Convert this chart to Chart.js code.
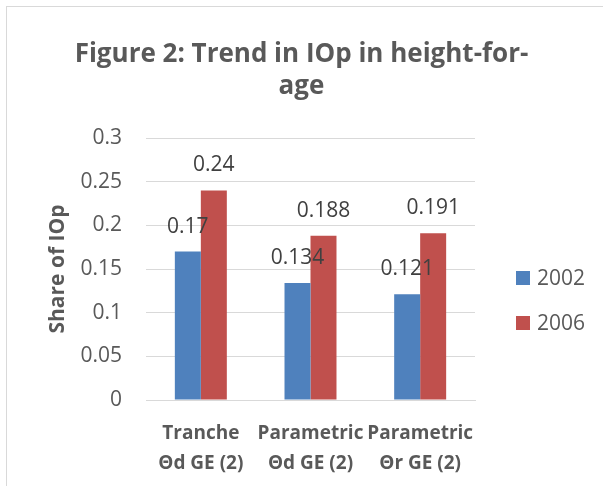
<!DOCTYPE html>
<html>
<head>
<meta charset="utf-8">
<script src="https://cdn.jsdelivr.net/npm/chart.js@4"></script>
<style>
  html, body { margin: 0; padding: 0; background: #fff; overflow: hidden; }
  #wrap { position: relative; width: 603px; height: 486px; }
  #frame { position: absolute; left: 6px; top: 6px; width: 700px; height: 700px;
           border-left: 1px solid #d9d9d9; border-top: 1px solid #d9d9d9; }
  canvas { position: absolute; left: 0; top: 0; }
</style>
</head>
<body>
<div id="wrap">
  <div id="frame"></div>
  <canvas id="chart" width="603" height="486"></canvas>
</div>
<script>
// chart data
const categories = [
  ["Tranche", "\u0398d GE (2)"],
  ["Parametric", "\u0398d GE (2)"],
  ["Parametric", "\u0398r GE (2)"]
];
const years = ["2002", "2006"];
const values2002 = [0.17, 0.134, 0.121];
const values2006 = [0.24, 0.188, 0.191];
const yTicks = [0, 0.05, 0.1, 0.15, 0.2, 0.25, 0.3];

const FONT = "'Open Sans', 'DejaVu Sans', sans-serif";

// value above each bar (no datalabels plugin offline)
const barLabels = {
  id: "barLabels",
  afterDatasetsDraw(chart) {
    const ctx = chart.ctx;
    ctx.save();
    ctx.font = "21px " + FONT;
    ctx.fillStyle = "#404040";
    ctx.textAlign = "center";
    ctx.textBaseline = "middle";
    chart.data.datasets.forEach((ds, i) => {
      chart.getDatasetMeta(i).data.forEach((bar, j) => {
        ctx.fillText(String(ds.data[j]), bar.x, bar.y - 25);
      });
    });
    ctx.restore();
  }
};

// legend on the right, placed like the excel one
const sideLegend = {
  id: "sideLegend",
  afterDraw(chart) {
    const ctx = chart.ctx;
    const x = chart.chartArea.right + 41;
    ctx.save();
    ctx.font = "21px " + FONT;
    ctx.textAlign = "left";
    ctx.textBaseline = "middle";
    chart.data.datasets.forEach((ds, i) => {
      const cy = 278 + i * 45;
      ctx.fillStyle = ds.backgroundColor;
      ctx.fillRect(x, cy - 7, 14, 14);
      ctx.fillStyle = "#595959";
      ctx.fillText(ds.label, x + 21, cy + 1);
    });
    ctx.restore();
  }
};

new Chart(document.getElementById("chart"), {
  type: "bar",
  data: {
    labels: categories,
    datasets: [
      { label: years[0], data: values2002, backgroundColor: "#4f81bd" },
      { label: years[1], data: values2006, backgroundColor: "#c0504d" }
    ]
  },
  options: {
    responsive: false,
    animation: false,
    layout: { padding: 0 },
    datasets: { bar: { categoryPercentage: 0.474, barPercentage: 1 } },
    plugins: {
      title: {
        display: true,
        text: ["Figure 2: Trend in IOp in height-for-", "age"],
        color: "#595959",
        font: { family: FONT, size: 26, weight: "bold", lineHeight: 1.25 },
        padding: { top: 38, bottom: 35 }
      },
      legend: { display: false },
      tooltip: { enabled: false }
    },
    scales: {
      x: {
        grid: { display: false },
        border: { display: true, color: "#d9d9d9" },
        ticks: {
          color: "#595959",
          font: { family: FONT, size: 19, weight: "bold", lineHeight: 1.55 },
          padding: 11,
          maxRotation: 0,
          autoSkip: false
        },
        afterFit(scale) { scale.height = 86; }
      },
      y: {
        min: 0,
        max: 0.3,
        afterBuildTicks(scale) { scale.ticks = yTicks.map(v => ({ value: v })); },
        grid: { color: "#d9d9d9", drawTicks: false },
        border: { display: false },
        ticks: {
          color: "#595959",
          font: { family: FONT, size: 21 },
          padding: 24,
          callback: v => String(Number(v.toFixed(2)))
        },
        title: {
          display: true,
          text: "Share of IOp",
          color: "#595959",
          font: { family: FONT, size: 21, weight: "bold" },
          padding: { top: 45, bottom: 0 }
        },
        afterFit(scale) { scale.width = 146; }
      },
      // empty right axis: keeps room for the legend without shifting the title
      yRight: {
        position: "right",
        grid: { display: false },
        border: { display: false },
        ticks: { display: false },
        afterFit(scale) { scale.width = 128; }
      }
    }
  },
  plugins: [barLabels, sideLegend]
});
</script>
</body>
</html>
